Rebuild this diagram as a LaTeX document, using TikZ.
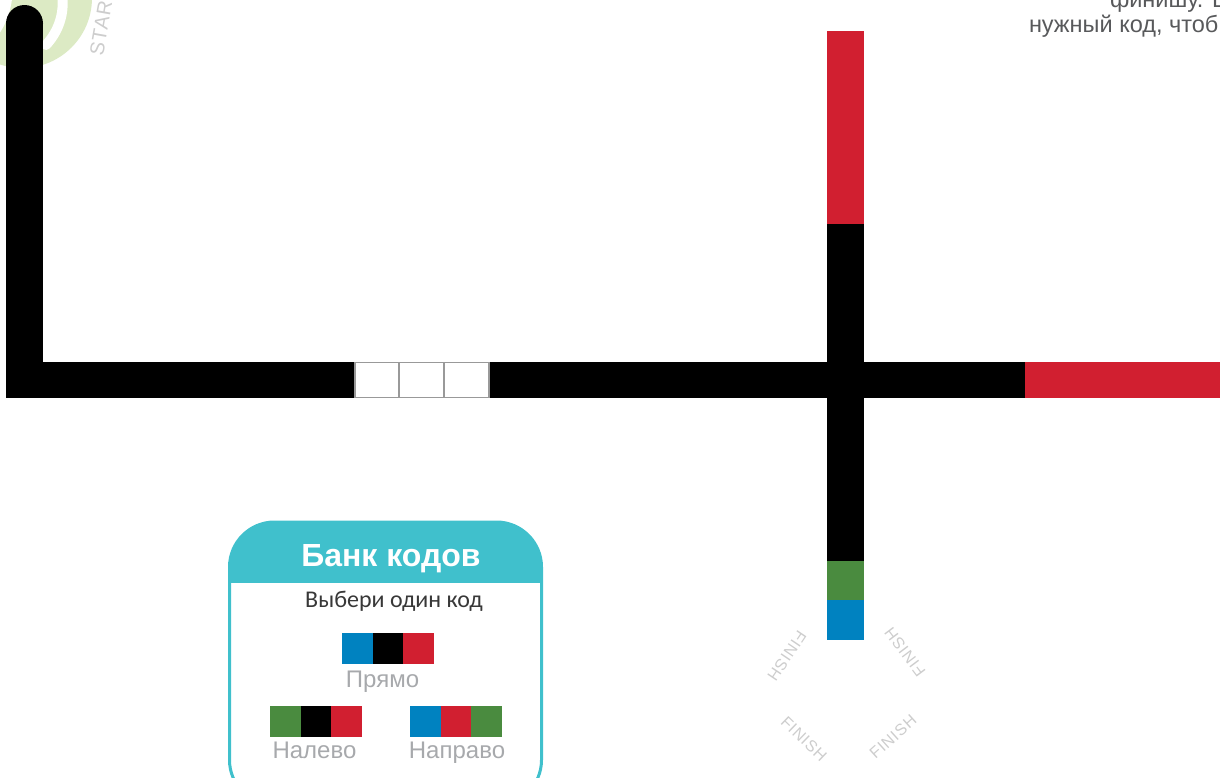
\documentclass[tikz,border=0pt]{standalone}
\usepackage{fontspec}
\setmainfont{Liberation Sans}
\newfontfamily\carlito{Carlito}
\definecolor{cblue}{HTML}{0082C0}
\definecolor{cred}{HTML}{D11F30}
\definecolor{cgreen}{HTML}{4A8B3F}
\definecolor{teal}{HTML}{40C0CC}
\definecolor{startgreen}{HTML}{DCEAC4}
\definecolor{lblgray}{HTML}{A7A9AC}
\definecolor{txtgray}{HTML}{58595B}
\definecolor{fingray}{HTML}{CDCDCD}
\tikzset{
  txt/.style={inner sep=0pt, outer sep=0pt},
  finlbl/.style={txt, text=fingray, font=\fontsize{16}{16}\selectfont\addfontfeature{LetterSpace=5}},
  codelbl/.style={txt, anchor=base, text=lblgray, font=\fontsize{24}{24}\selectfont},
  cell/.style={line width=1.2pt, draw=gray!80, fill=white}
}
\begin{document}
\begin{tikzpicture}[x=1pt,y=-1pt]
\useasboundingbox (0,0) rectangle (1220,777);
\clip (0,0) rectangle (1220,777);
% start spiral
\fill[startgreen] (22,-2) circle (70);
\draw[white, line width=10pt, line cap=round] (62,-6) .. controls (65,14) and (58,32) .. (46,45);
\fill[white] (-1,-1) -- (12,-1) .. controls (10,15) and (5,25) .. (-1,34) -- cycle;
\node[txt, anchor=base west, rotate=80, text=fingray, font=\fontsize{20}{20}\selectfont\addfontfeature{LetterSpace=4}] (start) at (103,56) {START};
% black track
\fill[black] (6,23.5) rectangle (43,398);
\fill[black] (24.5,23.5) circle (18.5);
\fill[black] (6,362) rectangle (1026,398);
\fill[cred] (1025,362) rectangle (1221,398);
% vertical track
\fill[cred] (826.5,31) rectangle (863.5,224.5);
\fill[black] (826.5,224) rectangle (863.5,561.5);
\fill[cgreen] (826.5,561) rectangle (863.5,600.5);
\fill[cblue] (826.5,600) rectangle (863.5,640);
% empty code cells
\draw[cell] (355,362.6) rectangle (399,397.4);
\draw[cell] (399,362.6) rectangle (444,397.4);
\draw[cell] (444,362.6) rectangle (489,397.4);
% finish labels
\node[finlbl, rotate=236] (f1) at (787,656) {FINISH};
\node[finlbl, rotate=127] (f2) at (905,652) {FINISH};
\node[finlbl, rotate=-44] (f3) at (804,739) {FINISH};
\node[finlbl, rotate=42] (f4) at (893,737) {FINISH};
% top right text
\node[txt, anchor=base west, text=txtgray, font=\fontsize{23.5}{23.5}\selectfont] (t1) at (1110,7) {финишу. В};
\node[txt, anchor=base west, text=txtgray, font=\fontsize{23.5}{23.5}\selectfont] (t2) at (1029,32) {нужный код, чтоб};
% code bank
\begin{scope}
\clip (200,500) rectangle (600,582);
\fill[teal, rounded corners=45pt] (229,820) rectangle (542,522);
\end{scope}
\draw[teal, line width=3pt, rounded corners=45pt] (229.5,522) rectangle (541.5,805);
\node[txt, anchor=base, text=white, font=\bfseries\fontsize{32}{32}\selectfont] (title) at (391,566) {Банк кодов};
\node[txt, anchor=base, text=black!78, font=\carlito\fontsize{24}{24}\selectfont] (sub) at (394,607) {Выбери один код};
% straight
\fill[cblue] (342,633) rectangle +(31,31);
\fill[black] (373,633) rectangle +(30.5,31);
\fill[cred] (403,633) rectangle +(31,31);
\node[codelbl] (l1) at (382.5,687) {Прямо};
% left
\fill[cgreen] (270,706) rectangle +(31,31);
\fill[black] (301,706) rectangle +(30.5,31);
\fill[cred] (331,706) rectangle +(31,31);
\node[codelbl] (l2) at (314.5,758) {Налево};
% right
\fill[cblue] (410,706) rectangle +(31,31);
\fill[cred] (441,706) rectangle +(30.5,31);
\fill[cgreen] (471,706) rectangle +(31,31);
\node[codelbl] (l3) at (457,758) {Направо};
\end{tikzpicture}
\end{document}
